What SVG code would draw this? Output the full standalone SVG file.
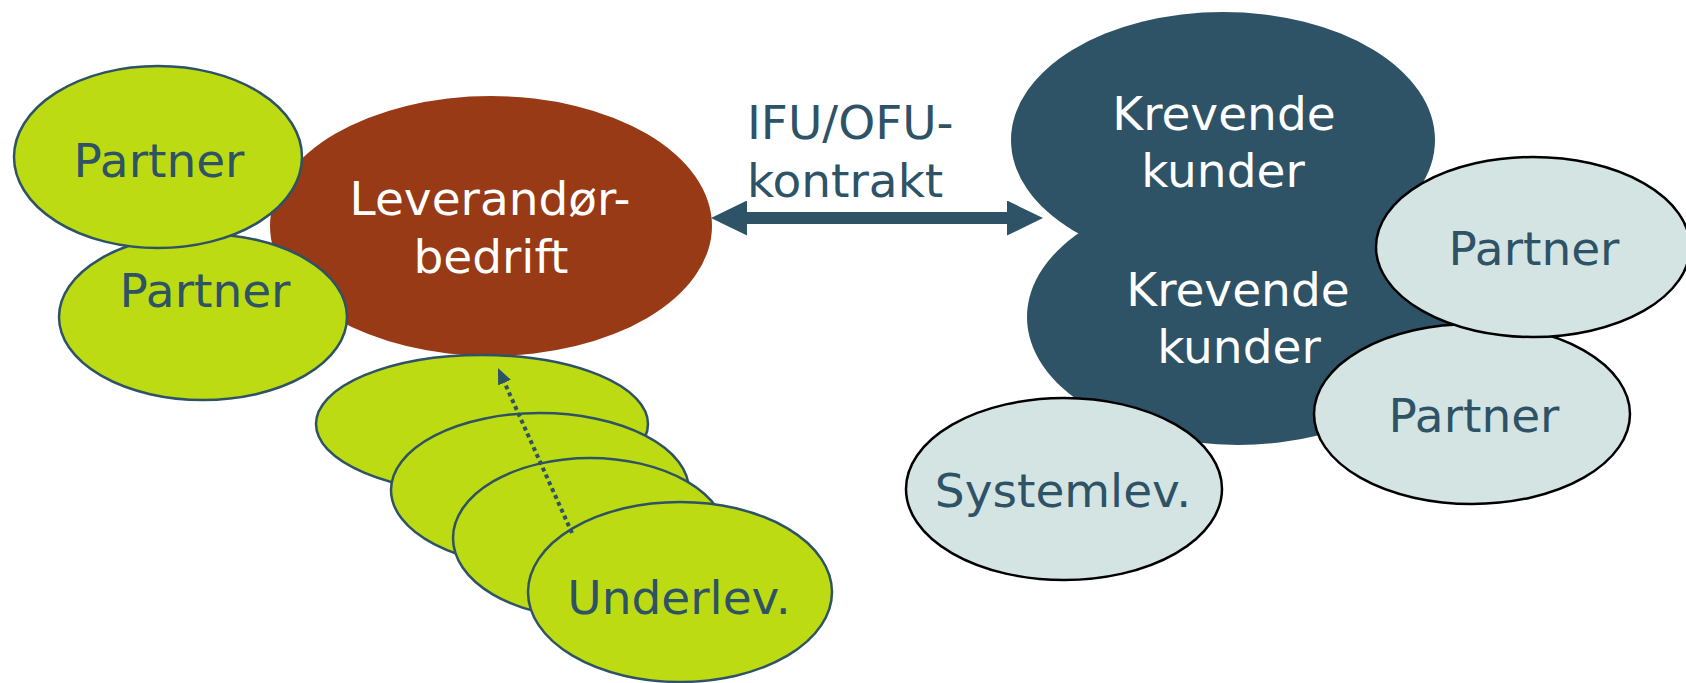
<svg xmlns="http://www.w3.org/2000/svg" width="1686" height="683" viewBox="0 0 1686 683">
  <defs>
    <style>
      .lbl { font-family: "DejaVu Sans", "Liberation Sans", sans-serif; font-size: 47px; text-anchor: middle; }
      .dark { fill: #2e5266; }
      .light { fill: #ffffff; }
      .green { fill: #bddb13; stroke: #2e5266; stroke-width: 2.5; }
      .pale { fill: #d4e4e3; stroke: #000000; stroke-width: 2.5; }
      .brown { fill: #973a15; }
      .navy { fill: #2e5266; }
    </style>
    <marker id="bigHead" markerUnits="userSpaceOnUse" markerWidth="36" markerHeight="35" refX="6" refY="17.5" orient="auto-start-reverse" viewBox="0 0 36 35">
      <path d="M0,0 L36,17.5 L0,35 z" fill="#2e5266"/>
    </marker>
    <marker id="smallHead" markerUnits="userSpaceOnUse" markerWidth="16" markerHeight="14" refX="2" refY="7" orient="auto" viewBox="0 0 16 14">
      <path d="M0,0 L16,7 L0,14 z" fill="#2e5266"/>
    </marker>
  </defs>

  <!-- supplier company with its partners -->
  <g id="leverandor">
    <ellipse class="brown" cx="491" cy="226" rx="221" ry="130"/>
    <text class="lbl light" x="490" y="215">Leverandør-</text>
    <text class="lbl light" x="491" y="273">bedrift</text>
  </g>
  <g id="partner-left-2">
    <ellipse class="green" cx="203" cy="317" rx="144" ry="83"/>
    <text class="lbl dark" x="205" y="307">Partner</text>
  </g>
  <g id="partner-left-1">
    <ellipse class="green" cx="158" cy="157" rx="144" ry="91"/>
    <text class="lbl dark" x="159" y="177">Partner</text>
  </g>

  <!-- stack of sub-suppliers -->
  <g id="underlev-stack">
    <ellipse class="green" cx="482" cy="424" rx="166" ry="69"/>
    <ellipse class="green" cx="540" cy="490" rx="149" ry="77"/>
    <ellipse class="green" cx="590" cy="538" rx="137" ry="80"/>
  </g>
  <g id="underlev">
    <ellipse class="green" cx="680" cy="592" rx="152" ry="90"/>
    <text class="lbl dark" x="679" y="614">Underlev.</text>
  </g>

  <!-- demanding customers -->
  <g id="krevende-kunder">
    <ellipse class="navy" cx="1223" cy="140" rx="212" ry="128"/>
    <ellipse class="navy" cx="1238" cy="317" rx="211" ry="128"/>
    <text class="lbl light" x="1224" y="130">Krevende</text>
    <text class="lbl light" x="1223" y="187">kunder</text>
    <text class="lbl light" x="1238" y="306">Krevende</text>
    <text class="lbl light" x="1239" y="363">kunder</text>
  </g>
  <g id="partner-right-2">
    <ellipse class="pale" cx="1472" cy="414" rx="158" ry="90"/>
    <text class="lbl dark" x="1474" y="432">Partner</text>
  </g>
  <g id="partner-right-1">
    <ellipse class="pale" cx="1533" cy="247" rx="157" ry="90"/>
    <text class="lbl dark" x="1534" y="265">Partner</text>
  </g>
  <g id="systemlev">
    <ellipse class="pale" cx="1064" cy="489" rx="158" ry="91"/>
    <text class="lbl dark" x="1063" y="507">Systemlev.</text>
  </g>

  <!-- connectors -->
  <g id="connectors">
    <line x1="741" y1="218" x2="1013" y2="218" stroke="#2e5266" stroke-width="12" marker-start="url(#bigHead)" marker-end="url(#bigHead)"/>
    <text class="lbl dark" x="747" y="139" style="text-anchor:start">IFU/OFU-</text>
    <text class="lbl dark" x="747" y="197" style="text-anchor:start">kontrakt</text>
    <line x1="572" y1="533" x2="503.7" y2="380.8" stroke="#2e5266" stroke-width="4" stroke-dasharray="4 3.5" marker-end="url(#smallHead)"/>
  </g>
</svg>
